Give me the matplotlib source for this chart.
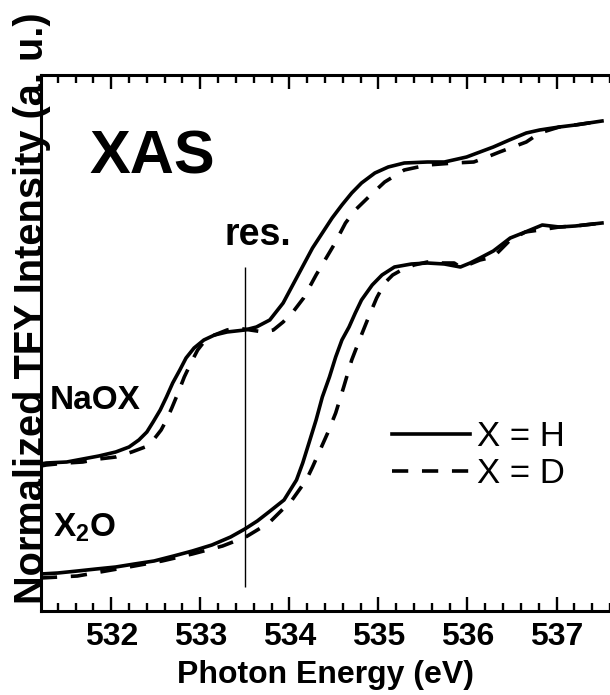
import matplotlib
matplotlib.use('Agg')
import matplotlib.pyplot as plt
import numpy as np

# photon energy (eV) / normalized TFY intensity (a. u.)
naox_h_e = [531.21, 531.27, 531.50, 531.68, 531.86, 532.05, 532.20, 532.31, 532.40, 532.47,
            532.55, 532.62, 532.69, 532.77, 532.84, 532.93, 533.04, 533.16, 533.30, 533.50,
            533.63, 533.78, 533.93, 534.08, 534.26, 534.37, 534.48, 534.59, 534.70, 534.81,
            534.96, 535.11, 535.29, 535.55, 535.74, 535.99, 536.14, 536.29, 536.47, 536.66,
            536.81, 537.03, 537.21, 537.51]
naox_h_i = [1.47, 1.48, 1.49, 1.52, 1.55, 1.59, 1.64, 1.71, 1.79, 1.89,
            2.01, 2.14, 2.28, 2.41, 2.53, 2.63, 2.71, 2.76, 2.79, 2.81,
            2.84, 2.91, 3.08, 3.33, 3.63, 3.78, 3.93, 4.06, 4.18, 4.28,
            4.38, 4.44, 4.48, 4.49, 4.49, 4.54, 4.59, 4.64, 4.71, 4.78,
            4.81, 4.84, 4.86, 4.90]

naox_d_e = [531.21, 531.27, 531.50, 531.68, 531.86, 532.05, 532.23, 532.38, 532.49, 532.56,
            532.62, 532.68, 532.75, 532.82, 532.90, 532.97, 533.04, 533.16, 533.30, 533.41,
            533.56, 533.71, 533.82, 533.93, 534.04, 534.16, 534.30, 534.50, 534.63, 534.74,
            534.89, 535.07, 535.29, 535.55, 535.85, 536.07, 536.22, 536.36, 536.51, 536.66,
            536.81, 537.03, 537.21, 537.51]
naox_d_i = [1.45, 1.46, 1.48, 1.49, 1.52, 1.54, 1.59, 1.64, 1.73, 1.81,
            1.91, 2.03, 2.18, 2.34, 2.49, 2.61, 2.69, 2.76, 2.81, 2.83,
            2.81, 2.79, 2.81, 2.89, 2.99, 3.13, 3.36, 3.66, 3.88, 4.01,
            4.14, 4.29, 4.41, 4.46, 4.48, 4.49, 4.54, 4.59, 4.64, 4.69,
            4.78, 4.84, 4.86, 4.90]

x2o_h_e = [531.21, 531.40, 531.62, 531.83, 532.05, 532.26, 532.48, 532.70, 532.91, 533.13,
           533.34, 533.50, 533.64, 533.77, 533.94, 534.08, 534.15, 534.22, 534.30, 534.37,
           534.45, 534.52, 534.59, 534.67, 534.74, 534.81, 534.93, 535.04, 535.18, 535.37,
           535.55, 535.74, 535.92, 536.03, 536.14, 536.29, 536.48, 536.65, 536.84, 537.03,
           537.21, 537.51]
x2o_h_i = [0.37, 0.38, 0.40, 0.42, 0.44, 0.47, 0.50, 0.55, 0.60, 0.66,
           0.74, 0.82, 0.90, 0.99, 1.11, 1.31, 1.48, 1.68, 1.91, 2.14,
           2.34, 2.54, 2.71, 2.84, 2.98, 3.11, 3.26, 3.36, 3.44, 3.47,
           3.48, 3.47, 3.44, 3.48, 3.53, 3.60, 3.73, 3.79, 3.86, 3.84,
           3.85, 3.88]

x2o_d_e = [531.21, 531.62, 532.26, 532.57, 532.91, 533.25, 533.51, 533.77, 534.03, 534.19,
           534.26, 534.33, 534.43, 534.52, 534.61, 534.70, 534.80, 534.89, 534.98, 535.07,
           535.16, 535.26, 535.40, 535.55, 535.70, 535.85, 535.92, 536.03, 536.14, 536.29,
           536.48, 536.65, 536.81, 537.03, 537.21, 537.51]
x2o_d_i = [0.33, 0.35, 0.45, 0.50, 0.57, 0.65, 0.74, 0.88, 1.11, 1.31,
           1.44, 1.58, 1.78, 1.98, 2.24, 2.51, 2.74, 2.94, 3.13, 3.28,
           3.36, 3.41, 3.46, 3.49, 3.48, 3.48, 3.44, 3.47, 3.51, 3.54,
           3.71, 3.79, 3.81, 3.84, 3.85, 3.88]

res_energy = 533.5
res_span = [0.24, 3.44]

xticks = [532, 533, 534, 535, 536, 537]

NARROW = ['Liberation Sans Narrow', 'Liberation Sans', 'DejaVu Sans']
SANS = ['Liberation Sans', 'DejaVu Sans']

fig = plt.figure(figsize=(6.1, 6.95), dpi=100)
ax = fig.add_axes([40.7/610, 1-611/695, 1-40.7/610, 536/695])

lw = 2.6
ax.plot(naox_h_e, naox_h_i, color='black', lw=lw, solid_joinstyle='round', label='X = H')
ax.plot(naox_d_e, naox_d_i, color='black', lw=lw, dashes=(4.5, 3.8), label='X = D')
ax.plot(x2o_h_e, x2o_h_i, color='black', lw=lw, solid_joinstyle='round')
ax.plot(x2o_d_e, x2o_d_i, color='black', lw=lw, dashes=(4.5, 3.8))

ax.vlines(res_energy, res_span[0], res_span[1], color='black', lw=1.0)

ax.set_xlim(531.208, 537.514)
ax.set_ylim(0, 5.36)

ax.set_xticks(xticks)
ax.set_xticks(np.arange(531.4, 537.6, 0.2), minor=True)
ax.set_yticks([])
ax.tick_params(axis='x', which='both', direction='in', top=True, width=1.7, pad=8)
ax.tick_params(axis='x', which='major', length=10)
ax.tick_params(axis='x', which='minor', length=5.8)
for lab in ax.get_xticklabels():
    lab.set_family(NARROW)
    lab.set_fontweight('bold')
    lab.set_fontsize(23)

for side in ['left', 'top', 'bottom']:
    ax.spines[side].set_linewidth(2.2)
ax.spines['right'].set_visible(False)

ax.set_xlabel('Photon Energy (eV)', family=SANS, fontweight='bold', fontsize=23, labelpad=6)
# y label runs up to the top edge of the figure
fig.text(43/610, 1-604/695, 'Normalized TFY Intensity (a. u.)', rotation=90,
         rotation_mode='anchor', ha='left', va='baseline',
         family=SANS, fontweight='bold', fontsize=28.6)

ax.text(531.755, 4.38, 'XAS', family=SANS, fontweight='bold', fontsize=44,
        ha='left', va='baseline')
ax.text(533.27, 3.66, 'res.', family=NARROW, fontweight='bold', fontsize=27,
        ha='left', va='baseline')
ax.text(531.31, 2.02, 'NaOX', family=SANS, fontweight='bold', fontsize=24,
        ha='left', va='baseline')
ax.text(531.344, 0.75, r'X$_\mathregular{2}$O', family=SANS, fontweight='bold', fontsize=24,
        ha='left', va='baseline')

ax.legend(loc='center left', bbox_to_anchor=(0.617, 0.291), frameon=False,
          prop={'family': SANS, 'size': 25}, handlelength=2.25, handletextpad=0.2,
          labelspacing=0.1, borderpad=0, borderaxespad=0)

fig.savefig('out.png', dpi=100)
